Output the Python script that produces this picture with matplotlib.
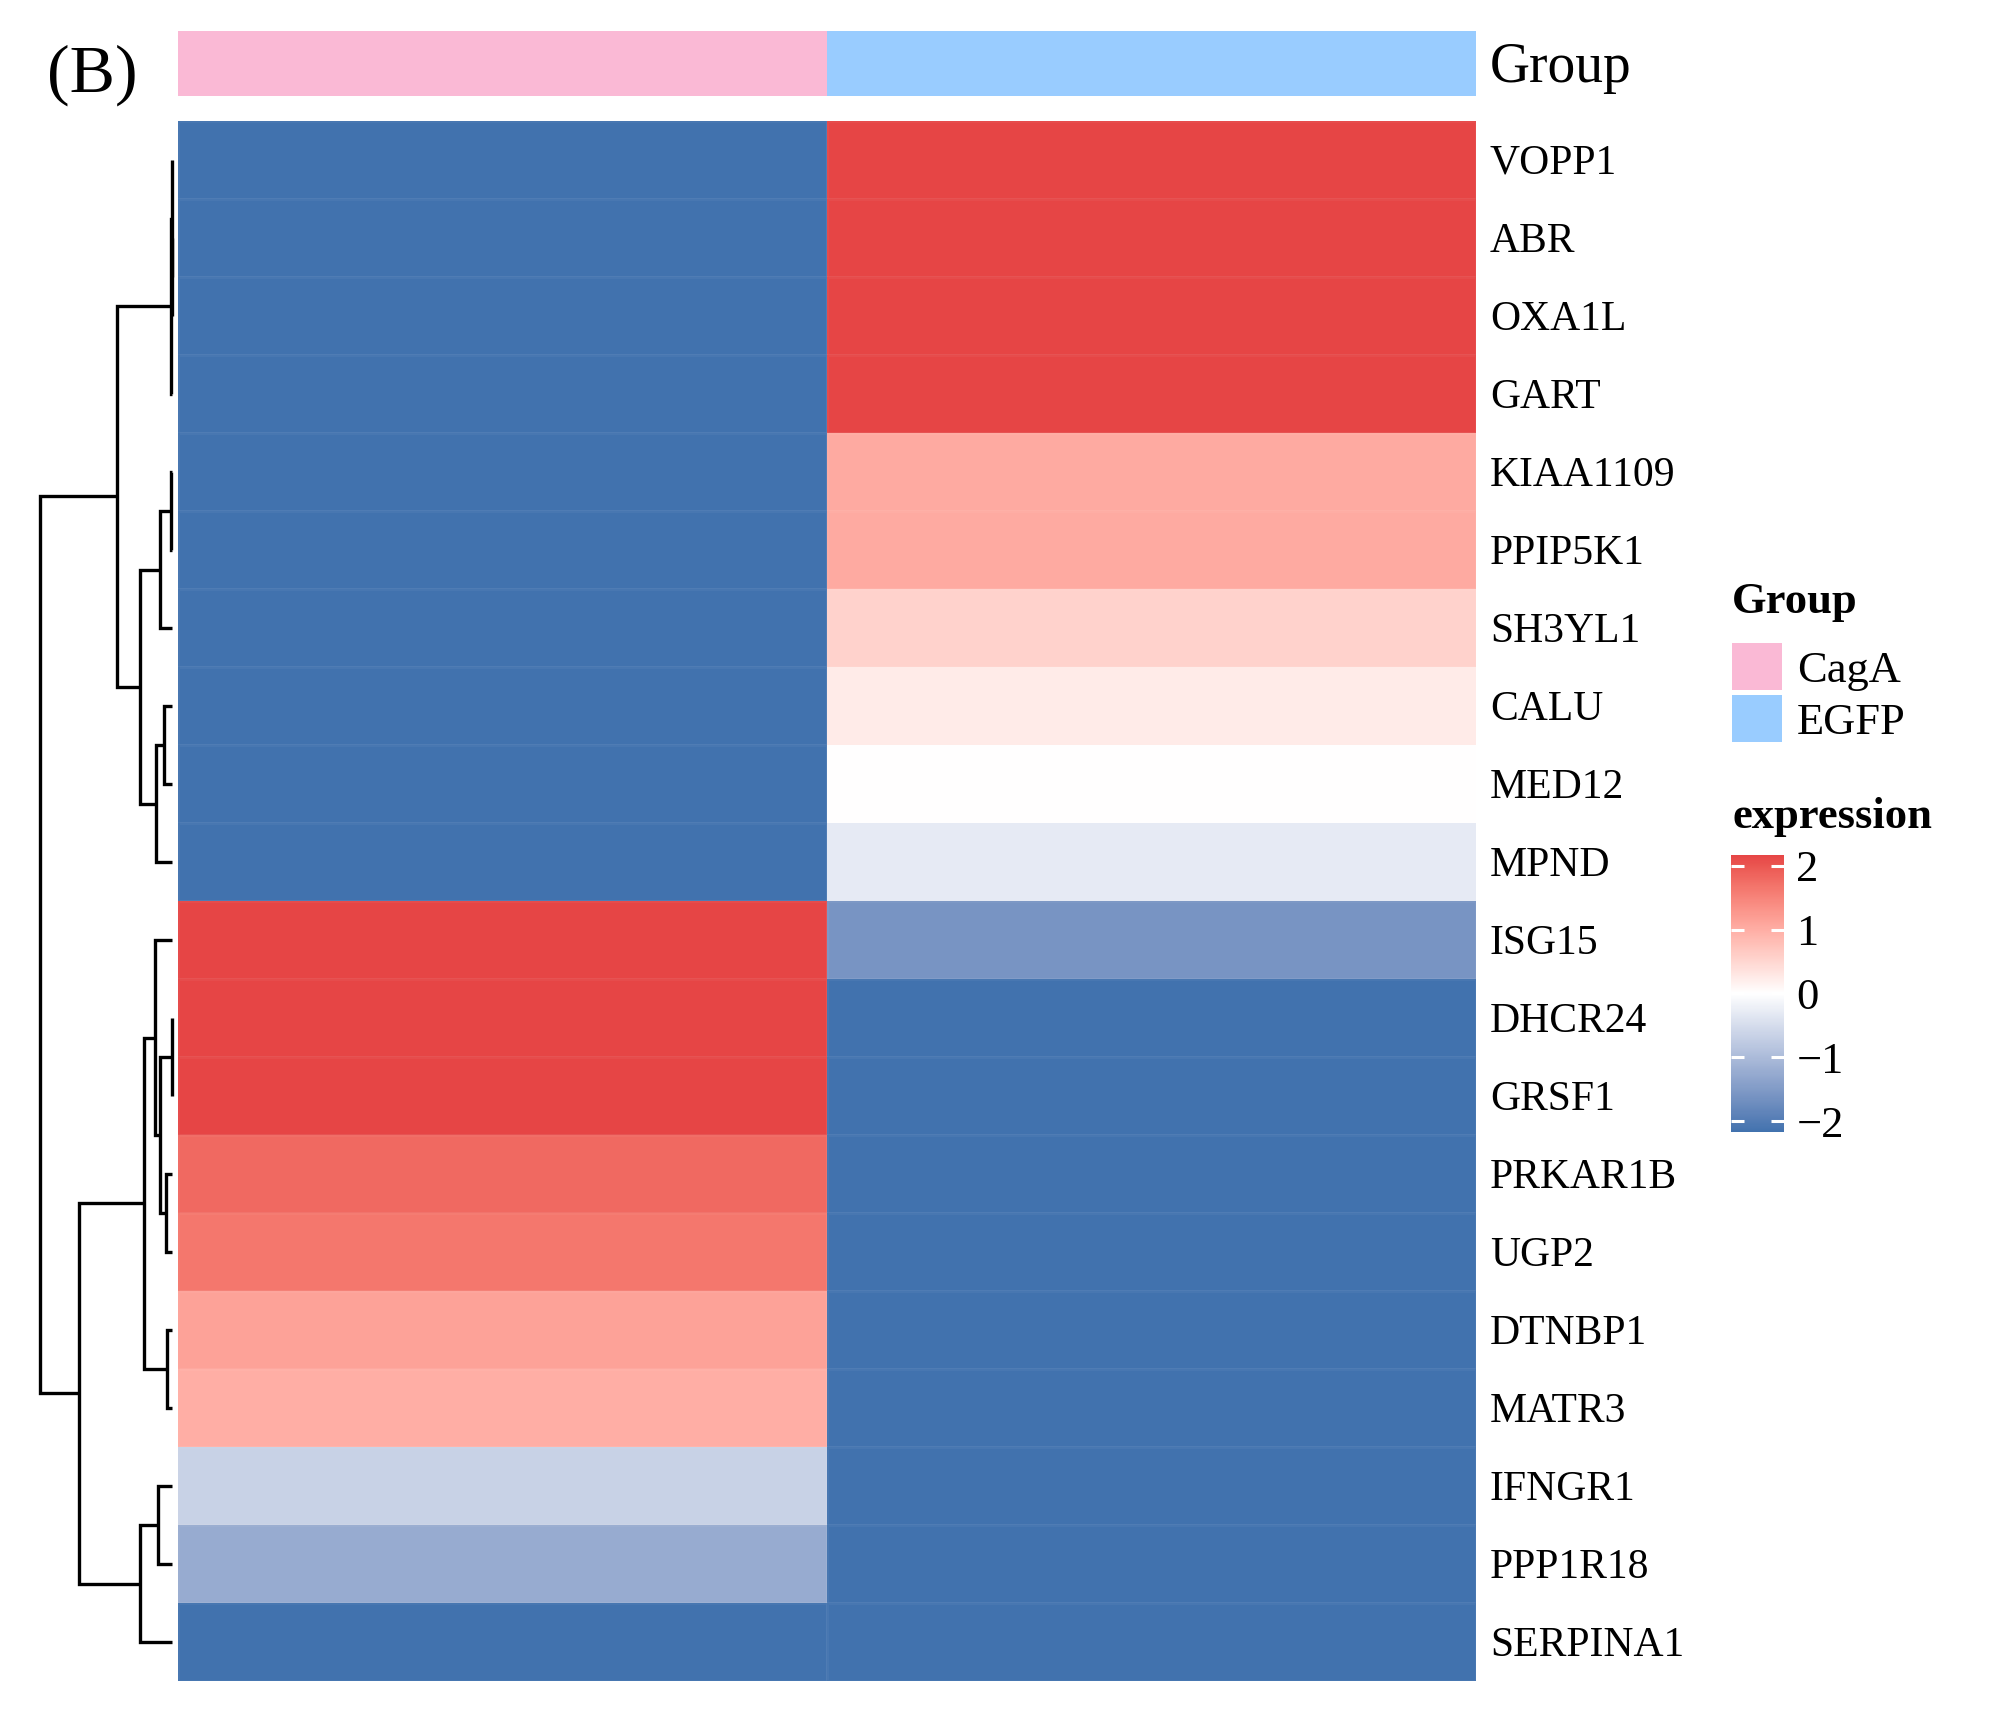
import numpy as np
import matplotlib
matplotlib.use("Agg")
import matplotlib.pyplot as plt
from matplotlib.colors import ListedColormap, Normalize
from matplotlib.patches import Rectangle
import matplotlib.cm as cm

# ---------------- data ----------------
genes = ["VOPP1", "ABR", "OXA1L", "GART", "KIAA1109", "PPIP5K1", "SH3YL1", "CALU",
         "MED12", "MPND", "ISG15", "DHCR24", "GRSF1", "PRKAR1B", "UGP2", "DTNBP1",
         "MATR3", "IFNGR1", "PPP1R18", "SERPINA1"]
groups = ["CagA", "EGFP"]
group_colors = ["#FAB9D5", "#99CCFF"]
cagA_vals = [-2.17, -2.17, -2.17, -2.17, -2.17, -2.17, -2.17, -2.17, -2.17, -2.17,
             2.17, 2.17, 2.17, 1.8, 1.65, 1.15, 1.0, -0.65, -1.25, -2.17]
egfp_vals = [2.17, 2.17, 2.17, 2.17, 1.05, 1.05, 0.55, 0.25, 0.0, -0.3,
             -1.6, -2.17, -2.17, -2.17, -2.17, -2.17, -2.17, -2.17, -2.17, -2.17]
# dendrogram merges: (child_a, child_b, height); leaves 0..19, new nodes 20..
merges = [(1, 2, 0.5), (0, 20, 1.0), (21, 3, 2.0),
          (4, 5, 3), (23, 6, 35), (7, 8, 23), (25, 9, 47), (24, 26, 97),
          (22, 27, 165),
          (11, 12, 1), (13, 14, 18), (29, 30, 35), (10, 31, 50), (15, 16, 15),
          (32, 33, 83), (17, 18, 43), (35, 19, 97), (34, 36, 277),
          (28, 37, 395)]
cbar_ticks = [2, 1, 0, -1, -2]
vmin, vmax = -2.17, 2.17

# ---------------- colour map (LAB interpolation) ----------------
def _hex2rgb(h):
    h = h.lstrip("#")
    return np.array([int(h[i:i + 2], 16) / 255 for i in (0, 2, 4)])

_M = np.array([[0.4124, 0.3576, 0.1805], [0.2126, 0.7152, 0.0722], [0.0193, 0.1192, 0.9505]])
_W = np.array([0.95047, 1.0, 1.08883])

def rgb2lab(c):
    lin = np.where(c <= 0.04045, c / 12.92, ((c + 0.055) / 1.055) ** 2.4)
    t = (_M @ lin) / _W
    d = 6 / 29
    f = np.where(t > d ** 3, np.cbrt(t), t / (3 * d * d) + 4 / 29)
    return np.array([116 * f[1] - 16, 500 * (f[0] - f[1]), 200 * (f[1] - f[2])])

def lab2rgb(lab):
    L, a, b = lab
    fy_ = (L + 16) / 116
    fx_ = fy_ + a / 500
    fz_ = fy_ - b / 200
    d = 6 / 29
    f = np.array([fx_, fy_, fz_])
    t = np.where(f > d, f ** 3, 3 * d * d * (f - 4 / 29)) * _W
    lin = np.linalg.solve(_M, t)
    lin = np.clip(lin, 0, 1)
    c = np.where(lin <= 0.0031308, 12.92 * lin, 1.055 * lin ** (1 / 2.4) - 0.055)
    return np.clip(c, 0, 1)

low, mid, high = rgb2lab(_hex2rgb("#4172AE")), rgb2lab(_hex2rgb("#FFFFFF")), rgb2lab(_hex2rgb("#E64545"))
vals = np.linspace(vmin, vmax, 256)
cols = []
for v in vals:
    if v <= 0:
        w = (v - vmin) / (0 - vmin)
        cols.append(lab2rgb(low + (mid - low) * w))
    else:
        w = v / vmax
        cols.append(lab2rgb(mid + (high - mid) * w))
cmap = ListedColormap(cols)
norm = Normalize(vmin, vmax)

# ---------------- figure ----------------
plt.rcParams["font.family"] = ["Liberation Serif", "DejaVu Serif"]
W, H = 2000, 1711
fig = plt.figure(figsize=(20, 17.11), dpi=100)

def fx(px):
    return px / W

def fy(py):
    return 1 - py / H

# heatmap
hm_l, hm_r, hm_t, hm_b = 178, 1476, 121, 1681
ax = fig.add_axes([fx(hm_l), fy(hm_b), fx(hm_r - hm_l), (hm_b - hm_t) / H])
data = np.column_stack([cagA_vals, egfp_vals])
ax.pcolormesh(np.arange(3), np.arange(len(genes) + 1), data, cmap=cmap, norm=norm,
              edgecolors=(1, 1, 1, 0.04), linewidth=0.8)
ax.set_xlim(0, 2)
ax.set_ylim(len(genes), 0)
ax.set_axis_off()
for i, g in enumerate(genes):
    ax.annotate(g, xy=(2, i + 0.5), xycoords="data", xytext=(10, -0.331 * 30),
                textcoords="offset points", fontsize=30, va="baseline", ha="left",
                annotation_clip=False)

# annotation bar
ax_ann = fig.add_axes([fx(hm_l), fy(96), fx(hm_r - hm_l), (96 - 31) / H])
ax_ann.pcolormesh(np.arange(3), [0, 1], np.array([[0, 1]]),
                  cmap=ListedColormap(group_colors), vmin=-0.5, vmax=1.5)
ax_ann.set_xlim(0, 2)
ax_ann.set_axis_off()

# dendrogram
dl, dr = 40, 172
ax_d = fig.add_axes([fx(dl), fy(hm_b), fx(dr - dl), (hm_b - hm_t) / H])
pos = {i: i + 0.5 for i in range(len(genes))}
hgt = {i: 0.0 for i in range(len(genes))}
nid = len(genes)
for a, b, h in merges:
    ax_d.plot([hgt[a], h, h, hgt[b]], [pos[a], pos[a], pos[b], pos[b]],
              color="black", lw=2.4, solid_capstyle="butt", solid_joinstyle="miter",
              clip_on=False)
    pos[nid] = (pos[a] + pos[b]) / 2
    hgt[nid] = h
    nid += 1
ax_d.set_xlim(merges[-1][2], 0)
ax_d.set_ylim(len(genes), 0)
ax_d.set_axis_off()

# overlay for text and legend
ov = fig.add_axes([0, 0, 1, 1], zorder=-1)
ov.set_xlim(0, W)
ov.set_ylim(H, 0)
ov.set_axis_off()
ov.text(47, 92, "(B)", fontsize=49, va="baseline", ha="left")
ov.text(1490, 82, "Group", fontsize=40, va="baseline", ha="left")

ov.text(1732, 613, "Group", fontsize=32, fontweight="bold", va="baseline", ha="left")
ov.add_patch(Rectangle((1732, 643), 50, 47, color=group_colors[0], lw=0))
ov.add_patch(Rectangle((1732, 695), 50, 47, color=group_colors[1], lw=0))
ov.text(1797, 682, groups[0], fontsize=32, va="baseline", ha="left")
ov.text(1797, 734, groups[1], fontsize=32, va="baseline", ha="left")
ov.text(1732, 828, "expression", fontsize=32, fontweight="bold", va="baseline", ha="left")

# colour bar
cb_l, cb_r, cb_t, cb_b = 1731, 1784, 855, 1132
cax = fig.add_axes([fx(cb_l), fy(cb_b), fx(cb_r - cb_l), (cb_b - cb_t) / H])
cb = fig.colorbar(cm.ScalarMappable(norm=norm, cmap=cmap), cax=cax)
cb.outline.set_visible(False)
cb.set_ticks(cbar_ticks)
cb.set_ticklabels(["\u2212" + str(-t) if t < 0 else str(t) for t in cbar_ticks])
cax.yaxis.set_ticks_position("both")
cax.yaxis.set_label_position("right")
cax.tick_params(axis="y", direction="in", length=9.5, width=2.2, color="white",
                labelcolor="black", labelsize=32, pad=9, left=True, right=True,
                labelleft=False, labelright=True)

fig.savefig("out.png", dpi=100)
